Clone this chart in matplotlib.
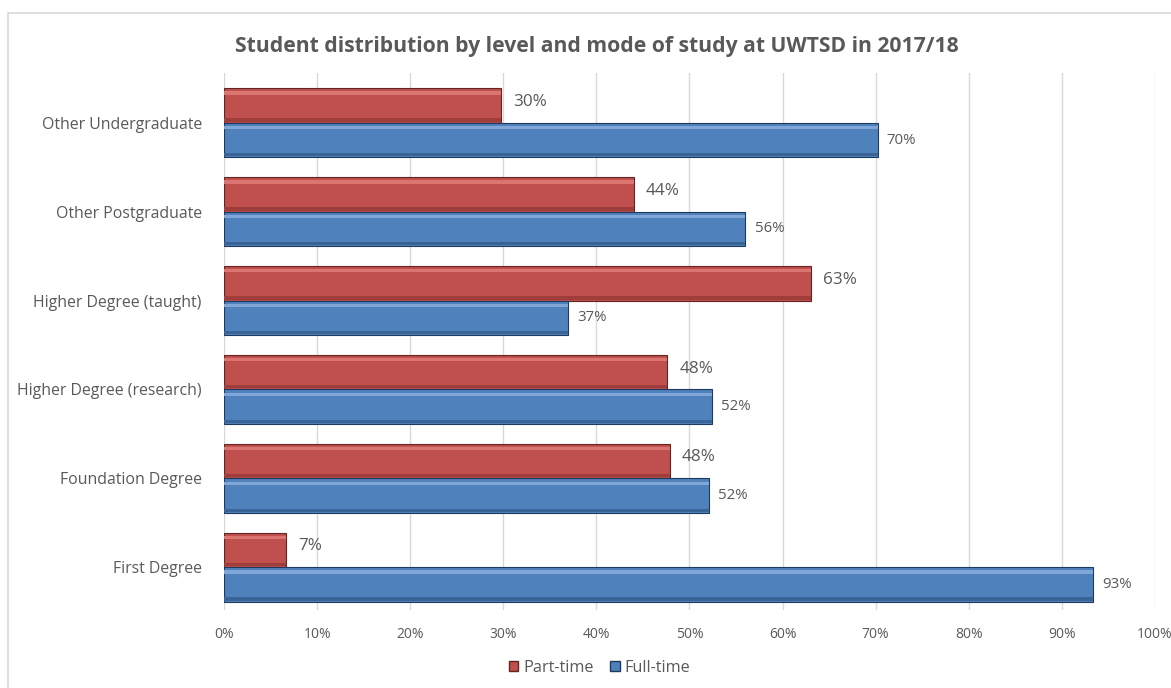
import numpy as np
import matplotlib
matplotlib.use("Agg")
import matplotlib.pyplot as plt
from matplotlib.patches import Rectangle

plt.rcParams['font.family'] = ['Open Sans', 'DejaVu Sans']

# data (bottom to top, as drawn)
levels = ["First Degree", "Foundation Degree", "Higher Degree (research)",
          "Higher Degree (taught)", "Other Postgraduate", "Other Undergraduate"]
part_time = [6.7, 47.9, 47.6, 63.0, 44.0, 29.8]
full_time = [93.3, 52.1, 52.4, 37.0, 56.0, 70.2]
ticks = [0, 10, 20, 30, 40, 50, 60, 70, 80, 90, 100]

red = "#C0504D"
blue = "#4F81BD"
txt = "#595959"

fig = plt.figure(figsize=(11.71, 6.88), dpi=100)
ax = fig.add_axes([0.1913, 0.1134, 0.795, 0.7806])

y = np.arange(len(levels))
h = 0.39

# bars, with a bit of shading to mimic the bevel look
ax.barh(y + h / 2, part_time, height=h, color=red, edgecolor="#632523", linewidth=0.8, zorder=3)
ax.barh(y - h / 2, full_time, height=h, color=blue, edgecolor="#1F3A5F", linewidth=0.8, zorder=3)
ax.barh(y + h * 0.86, part_time, height=h * 0.1, color="#DB7572", linewidth=0, zorder=4)
ax.barh(y - h * 0.14, full_time, height=h * 0.1, color="#7FA6D6", linewidth=0, zorder=4)
ax.barh(y + h * 0.08, part_time, height=h * 0.1, color="#9E3D3A", linewidth=0, zorder=4)
ax.barh(y - h * 0.92, full_time, height=h * 0.1, color="#3B6496", linewidth=0, zorder=4)

for yi, v in zip(y, part_time):
    ax.text(v + 1.3, yi + h / 2 + 0.04, f"{round(v)}%", va="center", ha="left",
            fontsize=12.3, color=txt)
for yi, v in zip(y, full_time):
    ax.text(v + 1.0, yi - h / 2, f"{round(v)}%", va="center", ha="left",
            fontsize=10.8, color=txt)

ax.set_xlim(0, 100)
ax.set_ylim(-0.48, 5.56)
ax.set_xticks(ticks)
ax.set_xticklabels([f"{t}%" for t in ticks], fontsize=10, color=txt)
ax.set_yticks(y)
ax.set_yticklabels(levels, fontsize=11.4, color=txt)
ax.tick_params(axis="both", length=0, pad=12)
ax.tick_params(axis="y", pad=16)
ax.xaxis.grid(True, color="#D9D9D9", linewidth=1, zorder=0)
ax.set_axisbelow(True)
for s in ax.spines.values():
    s.set_visible(False)

fig.text(0.51, 0.932, "Student distribution by level and mode of study at UWTSD in 2017/18",
         ha="center", va="center", fontsize=15.2, fontweight="bold", color=txt)

handles = [Rectangle((0, 0), 1, 1, facecolor=red, edgecolor="#632523"),
           Rectangle((0, 0), 1, 1, facecolor=blue, edgecolor="#1F3A5F")]
leg = fig.legend(handles, ["Part-time", "Full-time"], loc="center", ncol=2,
                 bbox_to_anchor=(0.512, 0.029), frameon=False, fontsize=11.7,
                 handlelength=0.6, handleheight=0.6, handletextpad=0.3, columnspacing=1.0)
for t in leg.get_texts():
    t.set_color(txt)

fig.patches.append(Rectangle((0.007, -0.01), 1.0, 0.991, transform=fig.transFigure,
                             facecolor="none", edgecolor="#D9D9D9", linewidth=1.2))

fig.savefig("out.png", dpi=100)
